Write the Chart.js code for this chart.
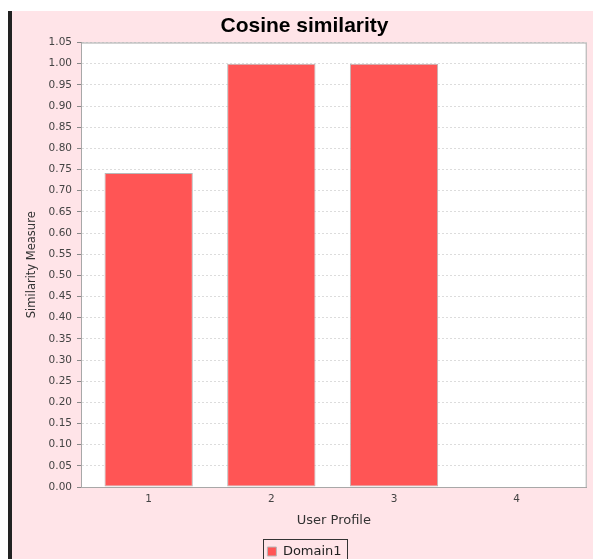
<!DOCTYPE html>
<html>
<head>
<meta charset="utf-8">
<script src="https://cdn.jsdelivr.net/npm/chart.js@4/dist/chart.umd.min.js"></script>
<style>
  html, body { margin: 0; padding: 0; background: #fff; overflow: hidden; }
  #frame {
    position: absolute; left: 8px; top: 11px;
    border-left: 4px solid #222;
    background: #ffe4e8;
    width: 585px; height: 557px;
  }
  canvas { display: block; }
</style>
</head>
<body>
<div id="frame"><canvas id="chart" width="585" height="557"></canvas></div>
<script>
// data
var profiles = [1, 2, 3, 4];
var similarity = [0.742, 1.0, 1.0, 0.0];
var seriesName = 'Domain1';
var chartTitle = 'Cosine similarity';
var xTitle = 'User Profile';
var yTitle = 'Similarity Measure';

var plotBox = {
  id: 'plotBox',
  beforeDraw: function(chart) {
    var a = chart.chartArea, ctx = chart.ctx;
    ctx.save();
    ctx.fillStyle = '#ffffff';
    ctx.fillRect(a.left, a.top, a.right - a.left, a.bottom - a.top);
    ctx.restore();
  },
  afterDraw: function(chart) {
    var a = chart.chartArea, ctx = chart.ctx;
    ctx.save();
    ctx.strokeStyle = '#a8a8a8';
    ctx.lineWidth = 1;
    ctx.strokeRect(a.left + 0.5, a.top + 0.5, a.right - a.left - 1, a.bottom - a.top);
    // box round the legend
    var hb = chart.legend.legendHitBoxes[0];
    if (hb) {
      ctx.strokeStyle = '#333';
      ctx.strokeRect(Math.round(hb.left - 4) + 0.5, Math.round(hb.top - 6) + 0.5,
        Math.round(hb.width + 10), Math.round(hb.height + 20));
    }
    ctx.restore();
  }
};

Chart.defaults.font.family = 'DejaVu Sans';

var ctx = document.getElementById('chart').getContext('2d');
var chart = new Chart(ctx, {
  type: 'bar',
  data: {
    datasets: [{
      label: seriesName,
      data: profiles.map(function(p, i) { return { x: p, y: similarity[i] }; }),
      backgroundColor: '#ff5555',
      borderColor: '#b8b8b8',
      borderWidth: 1,
      borderSkipped: false,
      xAxisID: 'x',
      yAxisID: 'y'
    }]
  },
  options: {
    responsive: false,
    animation: false,
    layout: { padding: 0 },
    scales: {
      x: {
        type: 'linear',
        offset: false,
        min: 0.4485,
        max: 4.5706,
        afterBuildTicks: function(scale) {
          scale.ticks = scale.ticks.filter(function(t) { return Number.isInteger(t.value); });
        },
        afterFit: function(scale) { scale.height = 48; },
        ticks: {
          stepSize: 1,
          padding: 6,
          color: '#444',
          font: { size: 10.5 }
        },
        grid: { display: false, drawTicks: false, offset: false },
        border: { color: '#999' },
        title: {
          display: true,
          text: xTitle,
          color: '#333',
          font: { size: 13 },
          padding: { top: 0, bottom: 6.1 }
        }
      },
      y: {
        min: 0,
        max: 1.05,
        afterFit: function(scale) { scale.width = 69; },
        ticks: {
          stepSize: 0.05,
          padding: 5,
          color: '#444',
          font: { size: 10.5 },
          callback: function(v) { return v.toFixed(2); }
        },
        grid: {
          color: '#dcdcdc',
          tickColor: '#888',
          tickLength: 4
        },
        border: { color: '#999', dash: [2, 2] },
        title: {
          display: true,
          text: yTitle,
          color: '#333',
          font: { size: 11.5 },
          padding: { top: 13.1, bottom: 0 }
        }
      },
      yR: {
        type: 'linear',
        position: 'right',
        afterFit: function(scale) { scale.width = 10.3; },
        ticks: { display: false },
        grid: { display: false, drawTicks: false },
        border: { display: false }
      }
    },
    plugins: {
      title: {
        display: true,
        text: chartTitle,
        color: '#000',
        font: { family: 'Liberation Sans', size: 21, weight: 'bold' },
        padding: { top: 3.1, bottom: 3.2 }
      },
      legend: {
        position: 'bottom',
        labels: {
          boxWidth: 9,
          boxHeight: 9,
          padding: 10,
          color: '#222',
          font: { size: 13 }
        }
      },
      tooltip: { enabled: false }
    }
  },
  plugins: [plotBox]
});
</script>
</body>
</html>
